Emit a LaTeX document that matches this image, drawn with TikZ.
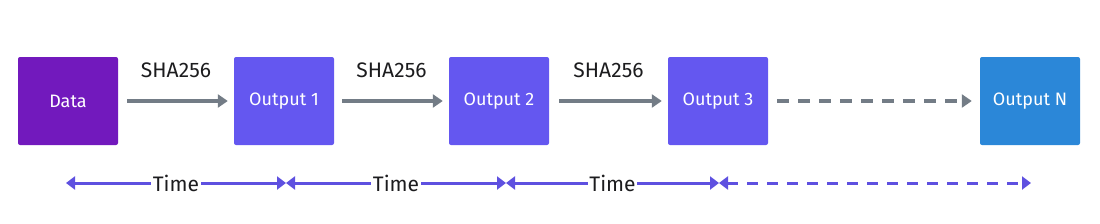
\documentclass[tikz,border=0pt]{standalone}
\usepackage{fontspec}
\setmainfont{Fira Sans}
\usetikzlibrary{arrows.meta,positioning}
\definecolor{DataPurple}{HTML}{7219BD}
\definecolor{OutViolet}{HTML}{6457F0}
\definecolor{OutBlue}{HTML}{2B87D8}
\definecolor{ArrowGrey}{HTML}{737C86}
\definecolor{TimeInk}{HTML}{5E50E0}
\definecolor{LabelInk}{HTML}{1C1C1E}

\begin{document}
\begin{tikzpicture}[x=1pt,y=-1pt,
  block/.style={rounded corners=2pt,minimum width=100pt,minimum height=88pt,
    inner sep=0pt,text=white,font=\fontsize{18}{20}\selectfont},
  hash/.style={draw=ArrowGrey,line width=3.4pt,-{Triangle[length=10pt,width=13pt]}},
  span/.style={draw=TimeInk,line width=3pt,{Triangle[length=9pt,width=13pt]}-{Triangle[length=9pt,width=13pt]}},
  tag/.style={font=\fontsize{21}{24}\selectfont,text=LabelInk}]
\useasboundingbox (0,0) rectangle (1100,223);
% hash chain
\node[block,fill=DataPurple] (data) at (68,101) {Data};
\node[block,fill=OutViolet] (out1) at (284,101) {Output 1};
\node[block,fill=OutViolet] (out2) at (499,101) {Output 2};
\node[block,fill=OutViolet] (out3) at (718,101) {Output 3};
\node[block,fill=OutBlue] (outN) at (1030,101) {Output N};
\draw[hash,shorten <=9pt,shorten >=6pt] (data) -- node[above=18pt,tag] {SHA256} (out1);
\draw[hash,shorten <=8pt,shorten >=6pt] (out1) -- node[above=18pt,tag] {SHA256} (out2);
\draw[hash,shorten <=10pt,shorten >=6pt] (out2) -- node[above=18pt,tag] {SHA256} (out3);
\draw[hash,dash pattern=on 12pt off 9pt,shorten <=9pt,shorten >=8pt] (out3) -- (outN);
% time spans
\coordinate (t0) at (66,183);
\coordinate (t1) at (286,183);
\coordinate (t2) at (506,183);
\coordinate (t3) at (719,183);
\coordinate (t4) at (1031,183);
\foreach \a/\b in {t0/t1,t1/t2,t2/t3}
  \draw[span] (\a) -- node[fill=white,inner sep=1.5pt,tag] {Time} (\b);
\draw[span,dash pattern=on 11pt off 9pt] (t3) -- (t4);
\end{tikzpicture}
\end{document}
